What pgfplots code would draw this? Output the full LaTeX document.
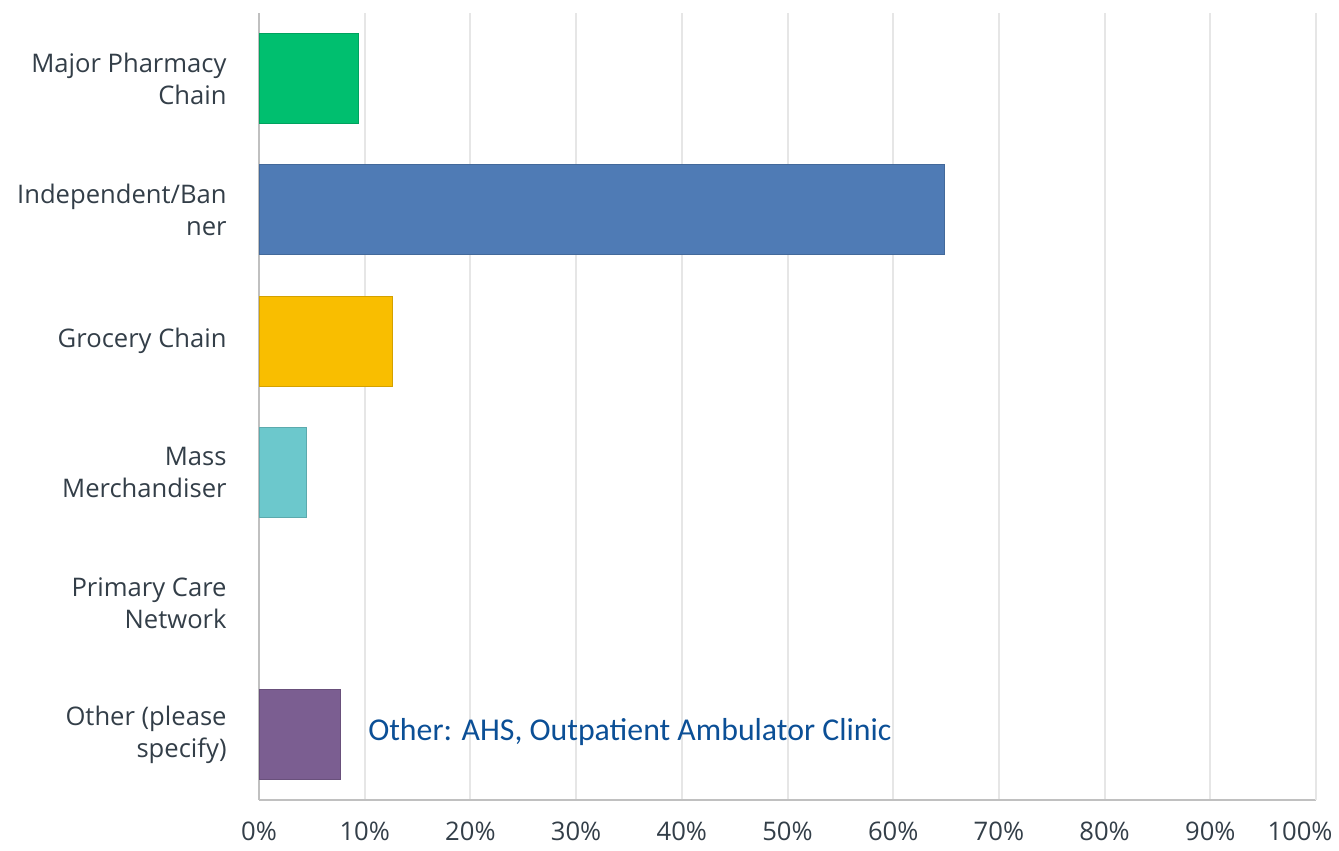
\documentclass[border=0pt]{standalone}
\usepackage{pgfplots}
\pgfplotsset{compat=1.18}
\usepackage{fontspec}
\setmainfont{Open Sans}
\newfontfamily\calfont{Carlito}
\definecolor{cgreen}{HTML}{00BF6F}
\definecolor{cblue}{HTML}{4F7BB5}
\definecolor{cyellow}{HTML}{F9BE00}
\definecolor{cteal}{HTML}{6CC8CC}
\definecolor{cpurple}{HTML}{7B5E91}
\definecolor{ctext}{HTML}{333E48}
\definecolor{cnote}{HTML}{0B4F96}
\definecolor{cgrid}{HTML}{E6E6E6}
\definecolor{caxis}{HTML}{C0C0C0}
\begin{document}
\begin{tikzpicture}
\useasboundingbox (-129.5pt,-25.5pt) rectangle (540pt,400pt);
\begin{axis}[
  at={(0,0)}, anchor=south west,
  scale only axis,
  width=528.5pt, height=393.5pt,
  xbar, bar width=45pt,
  xmin=0, xmax=100,
  ymin=-0.5, ymax=5.5,
  y dir=reverse,
  axis x line=bottom, axis y line=left,
  axis line style={-, draw=caxis, line width=1pt},
  xtick={0,10,...,90},
  extra x ticks={100},
  extra x tick style={xticklabel style={xshift=-8pt}},
  xticklabel={\pgfmathprintnumber{\tick}\%},
  /pgf/number format/assume math mode=true,
  xmajorgrids, grid style={draw=cgrid, line width=1pt},
  major tick length=0pt,
  ytick={0,1,2,3,4,5},
  yticklabels={{Major Pharmacy\\Chain},{Independent/Ban\\ner},{Grocery Chain},{Mass\\Merchandiser},{Primary Care\\Network},{Other (please\\specify)}},
  yticklabel style={align=right, anchor=east, inner sep=0pt, xshift=-16pt, text=ctext, font=\fontsize{12.8}{16}\selectfont},
  xticklabel style={anchor=north, inner sep=0pt, yshift=-11pt, text=ctext, font=\fontsize{12.8}{16}\selectfont},
  clip=false,
]
\addplot[fill=cgreen, draw=cgreen!85!black, bar shift=0pt] coordinates {(9.4,0)};
\addplot[fill=cblue, draw=cblue!85!black, bar shift=0pt] coordinates {(64.8,1)};
\addplot[fill=cyellow, draw=cyellow!85!black, bar shift=0pt] coordinates {(12.6,2)};
\addplot[fill=cteal, draw=cteal!85!black, bar shift=0pt] coordinates {(4.5,3)};
\addplot[fill=cpurple, draw=cpurple!85!black, bar shift=0pt] coordinates {(7.7,5)};
\node[anchor=west, inner sep=0pt, text=cnote, font=\calfont\fontsize{15.9}{18}\selectfont] at (axis cs:10.3,4.98) {Other: AHS, Outpatient Ambulator Clinic};
\end{axis}
\end{tikzpicture}
\end{document}
